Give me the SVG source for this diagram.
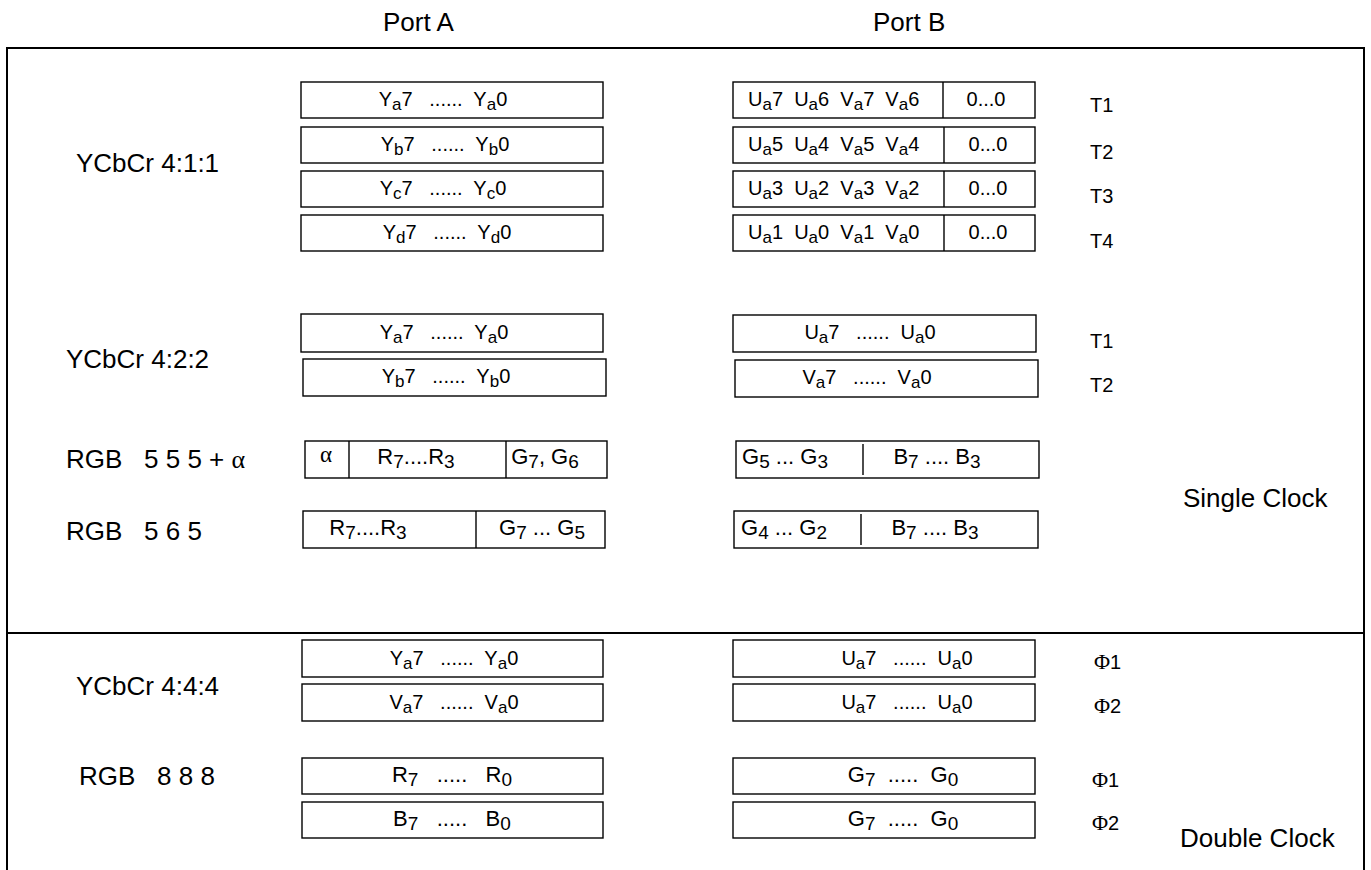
<svg xmlns="http://www.w3.org/2000/svg" width="1371" height="870" viewBox="0 0 1371 870">
<style>
.frame{fill:none;stroke:#000;stroke-width:2}
.box{fill:#fff;stroke:#000;stroke-width:1.4}
.div{stroke:#000;stroke-width:1.4}
text{font-family:"Liberation Sans",Arial,sans-serif;fill:#000;white-space:pre}
.t{font-size:20px}
.r{font-size:22px}
.m{text-anchor:middle}
.s{font-size:17px}
.rs{font-size:19px}
.lbl{font-size:26px}
.tl{font-size:20px}
.gr{font-family:"Liberation Serif","Times New Roman",serif}
.ph{font-size:22px}
</style>
<rect width="1371" height="870" fill="#fff"/>
<g id="frame">
<path class="frame" d="M7,870 V48 H1364 V870"/>
<line class="frame" x1="7" y1="633" x2="1364" y2="633"/>
</g>
<g id="headers">
<text class="lbl" x="383" y="31">Port A</text>
<text class="lbl" x="873" y="31">Port B</text>
</g>
<g id="row-labels">
<text class="lbl" x="76" y="172">YCbCr 4:1:1</text>
<text class="lbl" x="66" y="368">YCbCr 4:2:2</text>
<text class="lbl" x="66" y="468">RGB   5 5 5 + <tspan class="gr">α</tspan></text>
<text class="lbl" x="66" y="540">RGB   5 6 5</text>
<text class="lbl" x="76" y="695">YCbCr 4:4:4</text>
<text class="lbl" x="79" y="785">RGB   8 8 8</text>
<text class="lbl" x="1183" y="507">Single Clock</text>
<text class="lbl" x="1180" y="847">Double Clock</text>
</g>
<g id="timing-labels">
<text class="tl" x="1090" y="112">T1</text>
<text class="tl" x="1090" y="159">T2</text>
<text class="tl" x="1090" y="203">T3</text>
<text class="tl" x="1090" y="248">T4</text>
<text class="tl" x="1090" y="348">T1</text>
<text class="tl" x="1090" y="392">T2</text>
<text class="tl" x="1094" y="669"><tspan class="gr ph">Φ</tspan>1</text>
<text class="tl" x="1094" y="713"><tspan class="gr ph">Φ</tspan>2</text>
<text class="tl" x="1092" y="787"><tspan class="gr ph">Φ</tspan>1</text>
<text class="tl" x="1092" y="830"><tspan class="gr ph">Φ</tspan>2</text>
</g>
<g id="ycbcr411-a">
<rect class="box" x="301" y="82" width="302" height="36"/>
<rect class="box" x="301" y="127" width="302" height="36"/>
<rect class="box" x="301" y="171" width="302" height="36"/>
<rect class="box" x="301" y="215" width="302" height="36"/>
<text class="t m" x="443" y="106">Y<tspan class="s" dy="4">a</tspan><tspan dy="-4">7   ......  Y</tspan><tspan class="s" dy="4">a</tspan><tspan dy="-4">0</tspan></text>
<text class="t m" x="445" y="151">Y<tspan class="s" dy="4">b</tspan><tspan dy="-4">7   ......  Y</tspan><tspan class="s" dy="4">b</tspan><tspan dy="-4">0</tspan></text>
<text class="t m" x="443" y="195">Y<tspan class="s" dy="4">c</tspan><tspan dy="-4">7   ......  Y</tspan><tspan class="s" dy="4">c</tspan><tspan dy="-4">0</tspan></text>
<text class="t m" x="447" y="239">Y<tspan class="s" dy="4">d</tspan><tspan dy="-4">7   ......  Y</tspan><tspan class="s" dy="4">d</tspan><tspan dy="-4">0</tspan></text>
</g>
<g id="ycbcr411-b">
<rect class="box" x="733" y="82" width="302" height="36"/>
<rect class="box" x="733" y="127" width="302" height="36"/>
<rect class="box" x="733" y="171" width="302" height="36"/>
<rect class="box" x="733" y="215" width="302" height="36"/>
<line class="div" x1="943" y1="82" x2="943" y2="118"/>
<line class="div" x1="944" y1="127" x2="944" y2="163"/>
<line class="div" x1="944" y1="171" x2="944" y2="207"/>
<line class="div" x1="944" y1="215" x2="944" y2="251"/>
<text class="t" x="748" y="106">U<tspan class="s" dy="4">a</tspan><tspan dy="-4">7  U</tspan><tspan class="s" dy="4">a</tspan><tspan dy="-4">6  V</tspan><tspan class="s" dy="4">a</tspan><tspan dy="-4">7  V</tspan><tspan class="s" dy="4">a</tspan><tspan dy="-4">6</tspan></text>
<text class="t" x="748" y="151">U<tspan class="s" dy="4">a</tspan><tspan dy="-4">5  U</tspan><tspan class="s" dy="4">a</tspan><tspan dy="-4">4  V</tspan><tspan class="s" dy="4">a</tspan><tspan dy="-4">5  V</tspan><tspan class="s" dy="4">a</tspan><tspan dy="-4">4</tspan></text>
<text class="t" x="748" y="195">U<tspan class="s" dy="4">a</tspan><tspan dy="-4">3  U</tspan><tspan class="s" dy="4">a</tspan><tspan dy="-4">2  V</tspan><tspan class="s" dy="4">a</tspan><tspan dy="-4">3  V</tspan><tspan class="s" dy="4">a</tspan><tspan dy="-4">2</tspan></text>
<text class="t" x="748" y="239">U<tspan class="s" dy="4">a</tspan><tspan dy="-4">1  U</tspan><tspan class="s" dy="4">a</tspan><tspan dy="-4">0  V</tspan><tspan class="s" dy="4">a</tspan><tspan dy="-4">1  V</tspan><tspan class="s" dy="4">a</tspan><tspan dy="-4">0</tspan></text>
<text class="t m" x="986" y="106">0...0</text>
<text class="t m" x="988" y="151">0...0</text>
<text class="t m" x="988" y="195">0...0</text>
<text class="t m" x="988" y="239">0...0</text>
</g>
<g id="ycbcr422-a">
<rect class="box" x="301" y="314" width="302" height="38"/>
<rect class="box" x="303" y="359" width="303" height="37"/>
<text class="t m" x="444" y="339">Y<tspan class="s" dy="4">a</tspan><tspan dy="-4">7   ......  Y</tspan><tspan class="s" dy="4">a</tspan><tspan dy="-4">0</tspan></text>
<text class="t m" x="446" y="383">Y<tspan class="s" dy="4">b</tspan><tspan dy="-4">7   ......  Y</tspan><tspan class="s" dy="4">b</tspan><tspan dy="-4">0</tspan></text>
</g>
<g id="ycbcr422-b">
<rect class="box" x="733" y="315" width="303" height="37"/>
<rect class="box" x="735" y="360" width="303" height="37"/>
<text class="t m" x="870" y="339">U<tspan class="s" dy="4">a</tspan><tspan dy="-4">7   ......  U</tspan><tspan class="s" dy="4">a</tspan><tspan dy="-4">0</tspan></text>
<text class="t m" x="867" y="384">V<tspan class="s" dy="4">a</tspan><tspan dy="-4">7   ......  V</tspan><tspan class="s" dy="4">a</tspan><tspan dy="-4">0</tspan></text>
</g>
<g id="rgb555-a">
<rect class="box" x="305" y="441" width="302" height="37"/>
<line class="div" x1="349" y1="441" x2="349" y2="478"/>
<line class="div" x1="506" y1="441" x2="506" y2="478"/>
<text class="gr m" x="326" y="462" font-size="23">α</text>
<text class="r m" x="416" y="464">R<tspan class="rs" dy="4">7</tspan><tspan dy="-4">....R</tspan><tspan class="rs" dy="4">3</tspan></text>
<text class="r m" x="545" y="464">G<tspan class="rs" dy="4">7</tspan><tspan dy="-4">, G</tspan><tspan class="rs" dy="4">6</tspan></text>
</g>
<g id="rgb555-b">
<rect class="box" x="736" y="441" width="303" height="37"/>
<line class="div" x1="863" y1="444" x2="863" y2="475"/>
<text class="r m" x="785" y="464">G<tspan class="rs" dy="4">5</tspan><tspan dy="-4"> ... G</tspan><tspan class="rs" dy="4">3</tspan></text>
<text class="r m" x="937" y="464">B<tspan class="rs" dy="4">7</tspan><tspan dy="-4"> .... B</tspan><tspan class="rs" dy="4">3</tspan></text>
</g>
<g id="rgb565-a">
<rect class="box" x="303" y="511" width="302" height="37"/>
<line class="div" x1="476" y1="511" x2="476" y2="548"/>
<text class="r m" x="368" y="535">R<tspan class="rs" dy="4">7</tspan><tspan dy="-4">....R</tspan><tspan class="rs" dy="4">3</tspan></text>
<text class="r m" x="542" y="535">G<tspan class="rs" dy="4">7</tspan><tspan dy="-4"> ... G</tspan><tspan class="rs" dy="4">5</tspan></text>
</g>
<g id="rgb565-b">
<rect class="box" x="734" y="511" width="304" height="37"/>
<line class="div" x1="861" y1="514" x2="861" y2="545"/>
<text class="r m" x="784" y="535">G<tspan class="rs" dy="4">4</tspan><tspan dy="-4"> ... G</tspan><tspan class="rs" dy="4">2</tspan></text>
<text class="r m" x="935" y="535">B<tspan class="rs" dy="4">7</tspan><tspan dy="-4"> .... B</tspan><tspan class="rs" dy="4">3</tspan></text>
</g>
<g id="ycbcr444-a">
<rect class="box" x="302" y="640" width="301" height="37"/>
<rect class="box" x="302" y="684" width="301" height="37"/>
<text class="t m" x="454" y="665">Y<tspan class="s" dy="4">a</tspan><tspan dy="-4">7   ......  Y</tspan><tspan class="s" dy="4">a</tspan><tspan dy="-4">0</tspan></text>
<text class="t m" x="454" y="709">V<tspan class="s" dy="4">a</tspan><tspan dy="-4">7   ......  V</tspan><tspan class="s" dy="4">a</tspan><tspan dy="-4">0</tspan></text>
</g>
<g id="ycbcr444-b">
<rect class="box" x="733" y="640" width="302" height="37"/>
<rect class="box" x="733" y="684" width="302" height="37"/>
<text class="t m" x="907" y="665">U<tspan class="s" dy="4">a</tspan><tspan dy="-4">7   ......  U</tspan><tspan class="s" dy="4">a</tspan><tspan dy="-4">0</tspan></text>
<text class="t m" x="907" y="709">U<tspan class="s" dy="4">a</tspan><tspan dy="-4">7   ......  U</tspan><tspan class="s" dy="4">a</tspan><tspan dy="-4">0</tspan></text>
</g>
<g id="rgb888-a">
<rect class="box" x="302" y="758" width="301" height="36"/>
<rect class="box" x="302" y="802" width="301" height="36"/>
<text class="r m" x="452" y="782">R<tspan class="rs" dy="4">7</tspan><tspan dy="-4">   .....   R</tspan><tspan class="rs" dy="4">0</tspan></text>
<text class="r m" x="452" y="826">B<tspan class="rs" dy="4">7</tspan><tspan dy="-4">   .....   B</tspan><tspan class="rs" dy="4">0</tspan></text>
</g>
<g id="rgb888-b">
<rect class="box" x="733" y="758" width="302" height="36"/>
<rect class="box" x="733" y="802" width="302" height="36"/>
<text class="r m" x="903" y="782">G<tspan class="rs" dy="4">7</tspan><tspan dy="-4">  .....  G</tspan><tspan class="rs" dy="4">0</tspan></text>
<text class="r m" x="903" y="826">G<tspan class="rs" dy="4">7</tspan><tspan dy="-4">  .....  G</tspan><tspan class="rs" dy="4">0</tspan></text>
</g>
</svg>
